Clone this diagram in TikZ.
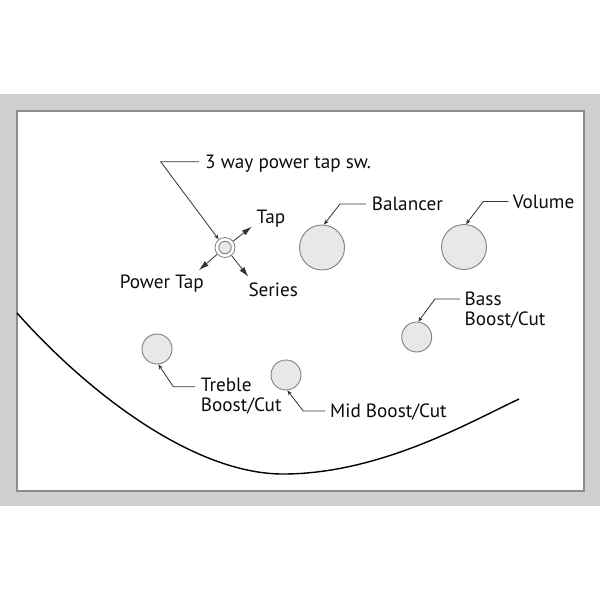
\documentclass[tikz,border=0pt]{standalone}
\usepackage{fontspec}
\setmainfont{PT Sans}
\usetikzlibrary{arrows.meta,calc}
\begin{document}
\begin{tikzpicture}[x=1pt,y=-1pt,
 knob/.style={circle,draw=black!50,fill=black!9,line width=0.9pt,inner sep=0pt},
 lbl/.style={anchor=base west,inner sep=0pt,font=\fontsize{19.2}{20}\selectfont,text=black!95},
 leader/.style={draw=black!80,line width=0.8pt,-{Stealth[length=5pt,width=4pt]}},
 swarrow/.style={draw=black!80,line width=0.8pt,-{Latex[length=10pt,width=6pt]}}]
\useasboundingbox (0,0) rectangle (600,600);
\fill[white] (0,0) rectangle (600,600);
\fill[black!19] (0,94) rectangle (600,506);
\draw[fill=white,draw=black!45,line width=1.2pt] (17,111) rectangle (584,491);

% body outline
\draw[line width=1.4pt] (17,313) .. controls (90,395) and (195,474) .. (283,474)
  .. controls (380,474) and (470,422) .. (519,399);

% knobs
\node[knob,minimum size=45pt] (bal) at (322,247.5) {};
\node[knob,minimum size=45pt] (vol) at (464,247) {};
\node[knob,minimum size=30pt] (bass) at (416.7,337) {};
\node[knob,minimum size=30pt] (tre) at (157,349) {};
\node[knob,minimum size=30pt] (mid) at (286,375) {};

% switch
\node[circle,draw=black!50,fill=white,line width=0.8pt,minimum size=20pt,inner sep=0pt] (sw) at (225,247.5) {};
\node[knob,minimum size=12.5pt] (swin) at (sw) {};

% labels
\node[lbl] (sw-lbl) at (205,168.3) {3 way power tap sw.};
\node[lbl] (tap-lbl) at (256.5,223.3) {Tap};
\node[lbl,anchor=base east] (pt-lbl) at (204,288.3) {Power Tap};
\node[lbl] (ser-lbl) at (248.3,296.7) {Series};
\node[lbl] (bal-lbl) at (371.7,210) {Balancer};
\node[lbl] (vol-lbl) at (512.7,208.3) {Volume};
\node[lbl] (bass-lbl) at (464.5,305) {Bass};
\node[lbl] (bass-lbl2) at ($(bass-lbl.base west)+(0,20)$) {Boost/Cut};
\node[lbl] (tre-lbl) at (200.7,391.7) {Treble};
\node[lbl] (tre-lbl2) at ($(tre-lbl.base west)+(0,20)$) {Boost/Cut};
\node[lbl] (mid-lbl) at (330,417.3) {Mid Boost/Cut};

% leaders
\draw[leader] ($(sw-lbl.base west)+(-6,-6.6)$) -- ++(-38.3,0) -- (sw.128);
\draw[leader] ($(bal-lbl.base west)+(-5.7,-6)$) -- ++(-26,0) -- (bal.85);
\draw[leader] ($(vol-lbl.base west)+(-4.4,-6.8)$) -- ++(-25,0) -- (vol.85);
\draw[leader] ($(bass-lbl.base west)+(-4.5,-6)$) -- ++(-25,0) -- (bass.84);
\draw[leader] ($(tre-lbl.base west)+(-5.7,-5)$) -- ++(-21.7,0) -- (tre.275);
\draw[leader] ($(mid-lbl.base west)+(-5,-6.3)$) -- ++(-21.7,0) -- (mid.275);

% switch arrows
\coordinate (tap-tip) at (251.7,226.7);
\coordinate (pt-tip) at (199,270);
\coordinate (ser-tip) at (248.3,276.7);
\draw[swarrow] (sw.38) -- (tap-tip);
\draw[swarrow] (sw.221) -- (pt-tip);
\draw[swarrow] (sw.309) -- (ser-tip);
\end{tikzpicture}
\end{document}
